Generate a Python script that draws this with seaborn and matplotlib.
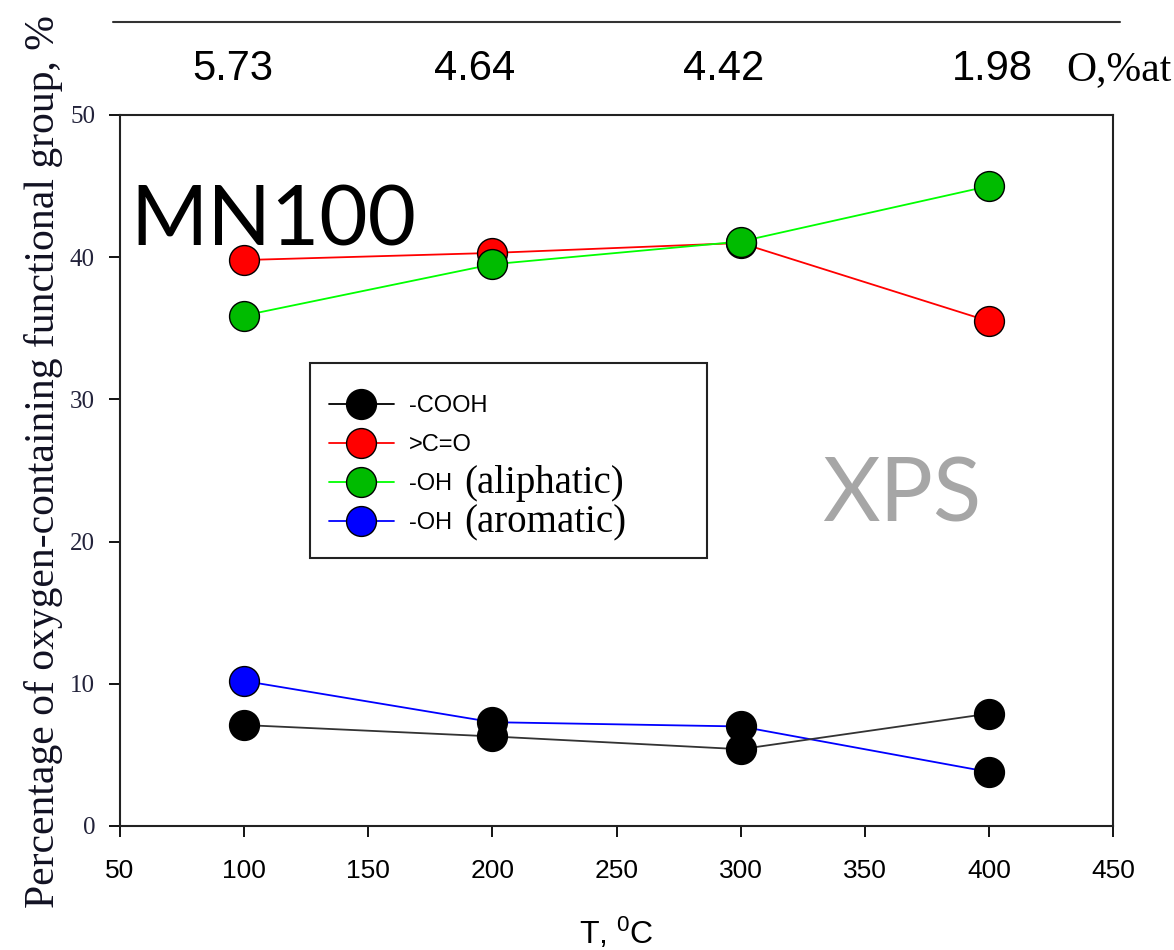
import matplotlib
matplotlib.use('Agg')
import matplotlib.pyplot as plt
import seaborn as sns
from matplotlib.lines import Line2D
from matplotlib.patches import Rectangle

# ---- data ----
T = [100, 200, 300, 400]
cooh = [7.1, 6.3, 5.4, 7.9]
c_o = [39.8, 40.3, 41.0, 35.5]
oh_aliphatic = [35.9, 39.5, 41.1, 45.0]
oh_aromatic = [10.2, 7.3, 7.0, 3.8]
o_at = ['5.73', '4.64', '4.42', '1.98']
x_ticks = [50, 100, 150, 200, 250, 300, 350, 400, 450]
y_ticks = [0, 10, 20, 30, 40, 50]
legend_labels = ['-COOH', '>C=O', '-OH', '-OH']
legend_extra = ['(aliphatic)', '(aromatic)']

# ---- layout (pixel positions of the top O,%at labels) ----
o_at_x_px = [233, 475, 724, 992]

sns.set_theme(style='white')
SANS = ['Liberation Sans', 'DejaVu Sans']
SERIF = ['Liberation Serif', 'DejaVu Serif']
plt.rcParams['font.family'] = SANS
plt.rcParams['mathtext.default'] = 'regular'
for k in ['text.color', 'axes.labelcolor', 'xtick.color', 'ytick.color']:
    plt.rcParams[k] = 'black'

W, H = 1174, 950
fig = plt.figure(figsize=(W / 100, H / 100), dpi=100)
ax = fig.add_axes([120 / W, 1 - 826 / H, 993 / W, 711 / H])

MS = 21.5
sns.lineplot(x=T, y=c_o, color='#ff0000', lw=1.3, marker='o', markersize=MS,
             markerfacecolor='#ff0000', markeredgecolor='black', markeredgewidth=1,
             ax=ax, zorder=3)
sns.lineplot(x=T, y=oh_aliphatic, color='#00ff00', lw=1.3, marker='o', markersize=MS,
             markerfacecolor='#00bb00', markeredgecolor='black', markeredgewidth=1,
             ax=ax, zorder=4)
sns.lineplot(x=T, y=oh_aromatic, color='#0000ff', lw=1.3, ax=ax, zorder=2)
sns.scatterplot(x=T[:1], y=oh_aromatic[:1], color='#0000ff', s=MS ** 2,
                edgecolor='black', linewidth=1, ax=ax, zorder=5)
sns.scatterplot(x=T[1:], y=oh_aromatic[1:], color='black', s=MS ** 2,
                edgecolor='black', linewidth=1, ax=ax, zorder=5)
sns.lineplot(x=T, y=cooh, color='#333333', lw=1.3, marker='o', markersize=MS,
             markerfacecolor='black', markeredgecolor='black', markeredgewidth=1,
             ax=ax, zorder=6)

ax.set_xlim(50, 450)
ax.set_ylim(0, 50)
ax.set_xticks(x_ticks)
ax.set_yticks(y_ticks)
ax.set_xticklabels([str(v) for v in x_ticks], fontsize=19, family=SANS)
ax.set_yticklabels([str(v) for v in y_ticks], fontsize=18, family=SERIF)
ax.tick_params(axis='x', bottom=True, direction='out', length=8, width=1.3, pad=16,
               colors='black')
ax.tick_params(axis='y', left=True, direction='out', length=8, width=1.3, pad=10,
               color='black', labelcolor='#22223a')
for sp in ax.spines.values():
    sp.set_visible(True)
    sp.set_color('#222222')
    sp.set_linewidth(1.5)
ax.grid(False)

ax.set_ylabel('Percentage of oxygen-containing functional group, %',
              family=SERIF, fontsize=30, color='#111122', va='center')
ax.yaxis.set_label_coords((44 - 120) / 993, (826 - 462) / 711)
ax.set_xlabel('T, $^0$C', family=SANS, fontsize=23, va='center')
ax.xaxis.set_label_coords(0.5, (826 - 933) / 711)

# top O,%at axis
for xp, s in zip(o_at_x_px, o_at):
    fig.text(xp / W, 1 - 69 / H, s, ha='center', va='center', fontsize=30, family=SANS)
fig.add_artist(Line2D([113 / W, 1120 / W], [1 - 22 / H, 1 - 22 / H],
                      color='#333333', lw=1.5))
fig.text(1172 / W, 1 - 70 / H, 'O,%at', ha='right', va='center', fontsize=30,
         family=SERIF)

fig.text(130 / W, 1 - 245 / H, 'MN100', ha='left', va='baseline', fontsize=60,
         family=['Lato', 'DejaVu Sans'], color='black')
fig.text(822 / W, 1 - 522 / H, 'XPS', ha='left', va='baseline', fontsize=64,
         family=['Lato', 'DejaVu Sans'], color='#a6a6a6')

# legend
handles = [
    Line2D([], [], color='black', lw=1.3, marker='o', markersize=MS,
           markerfacecolor='black', markeredgecolor='black'),
    Line2D([], [], color='#ff0000', lw=1.3, marker='o', markersize=MS,
           markerfacecolor='#ff0000', markeredgecolor='black'),
    Line2D([], [], color='#00ff00', lw=1.3, marker='o', markersize=MS,
           markerfacecolor='#00bb00', markeredgecolor='black'),
    Line2D([], [], color='#0000ff', lw=1.3, marker='o', markersize=MS,
           markerfacecolor='#0000ff', markeredgecolor='black'),
]
x0 = (310 - 120) / 993
x1 = (707 - 120) / 993
ytop = (826 - 363) / 711
ybot = (826 - 558) / 711
ax.add_patch(Rectangle((x0, ybot), x1 - x0, ytop - ybot, transform=ax.transAxes,
                       facecolor='white', edgecolor='#222222', lw=1.5, zorder=9,
                       clip_on=False))
yanchor = (826 - 376) / 711
leg = ax.legend(handles, legend_labels, loc='upper left',
                bbox_to_anchor=(x0, ybot, x1 - x0, yanchor - ybot), mode='expand',
                borderaxespad=0, frameon=False,
                prop={'family': SANS, 'size': 17}, handlelength=2.75,
                labelspacing=0.72, borderpad=0.8, handletextpad=0.65)
leg.set_zorder(10)
for t in leg.get_texts():
    t.set_color('black')

fig.canvas.draw()
r = fig.canvas.get_renderer()
texts = leg.get_texts()
for txt, extra in zip(texts[2:], legend_extra):
    bb = txt.get_window_extent(r)
    fig.text((bb.x1 + 12) / W, (bb.y0 + bb.y1) / 2 / H, extra, ha='left', va='center',
             fontsize=28, family=SERIF, zorder=11)

fig.savefig('out.png', dpi=100)
